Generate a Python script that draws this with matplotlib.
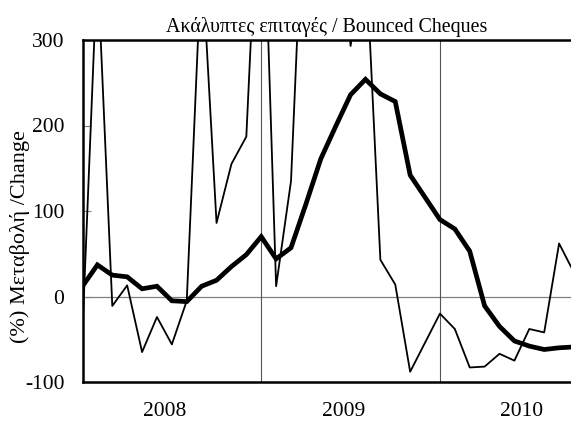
import numpy as np
import matplotlib.pyplot as plt

# monthly % change, Jan 2008 onwards (values above 300 are clipped in the chart)
thin_vals = [-40, 390, -11, 13, -65, -24, -56, -5, 400, 86, 155, 187,
             560, 12, 135, 540, 480, 520, 293, 408, 43, 14, -88, -54,
             -20, -38, -83, -82, -67, -75, -38, -42, 62, 28]
thick_vals = [12, 37, 25, 23, 9, 12, -5, -6, 12, 19, 35, 49,
              70, 44, 57, 108, 161, 199, 236, 254, 237, 228, 142, 116,
              90, 79, 53, -11, -35, -52, -58, -62, -60, -59]
years = ['2008', '2009', '2010']
yticks = [-100, 0, 100, 200, 300]

plt.rcParams['font.family'] = ['Liberation Serif', 'DejaVu Serif']

fig = plt.figure(figsize=(5.71, 4.21), dpi=100)
ax = fig.add_axes([82.5 / 571, 1 - 382 / 421, 1 - 82.5 / 571, 342 / 421])

x = np.arange(len(thin_vals))
ax.axhline(0, color='#808080', lw=0.9, zorder=1)
for b in [12, 24]:
    ax.axvline(b, color='#555555', lw=0.8, zorder=1)

ax.plot(x, thin_vals, color='black', lw=1.3, zorder=3)
ax.plot(x, thick_vals, color='black', lw=3.4, zorder=4, solid_joinstyle='miter')

ax.set_xlim(0, 32.8)
ax.set_ylim(-100, 300)
ax.set_yticks(yticks)
ax.set_yticklabels([str(v) for v in yticks], fontsize=15.5)
ax.tick_params(axis='y', direction='in', length=6, width=0.8, color='#808080', pad=13)

ax.set_xticks([5.5, 17.5, 29.5])
ax.set_xticklabels(years, fontsize=15.5)
ax.tick_params(axis='x', length=0, pad=14.5)

for s in ['left', 'bottom', 'top']:
    ax.spines[s].set_linewidth(1.8)
ax.spines['right'].set_visible(False)

ax.set_title('Ακάλυπτες επιταγές / Bounced Cheques', fontsize=14.4, pad=6)
fig.text(20 / 571, 1 - 237 / 421, '(%) Μεταβολή /Change', rotation=90,
         fontsize=16, ha='center', va='center')

fig.savefig('out.png', dpi=100)
